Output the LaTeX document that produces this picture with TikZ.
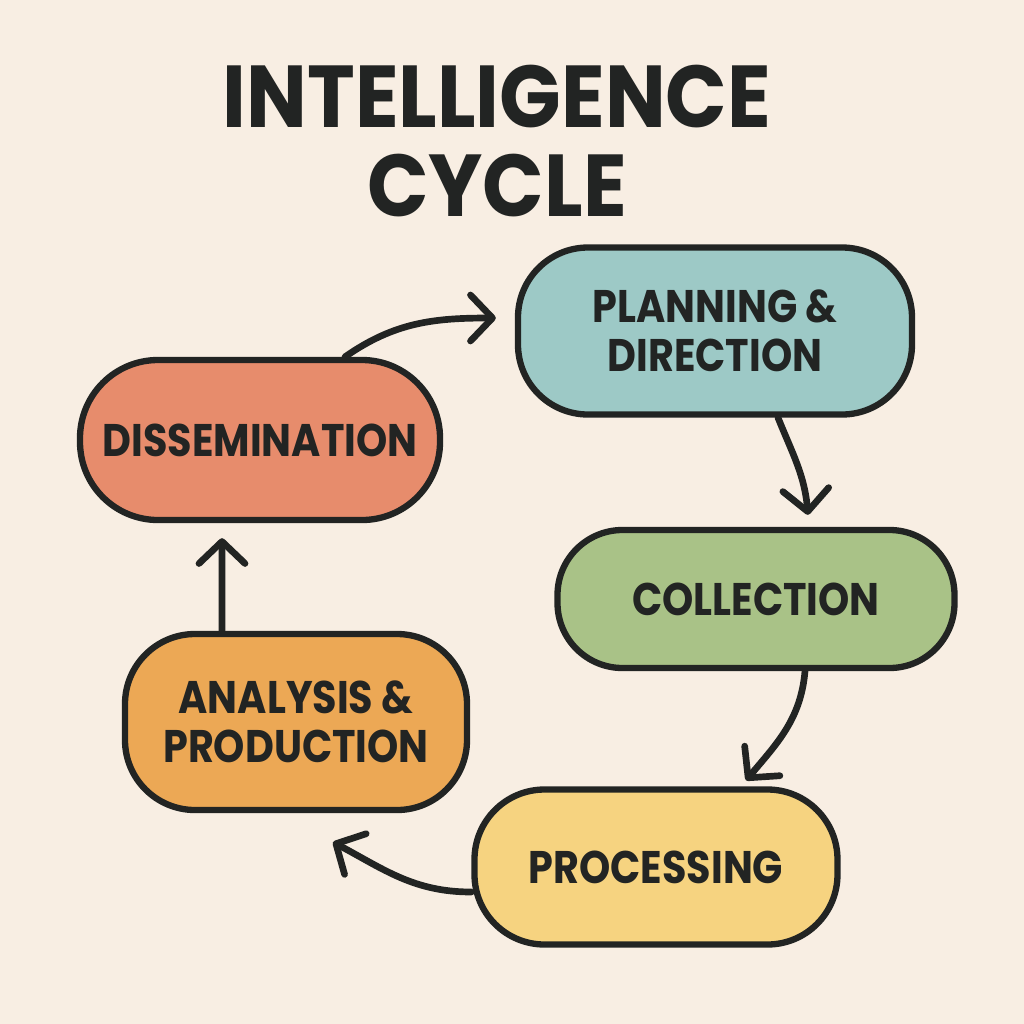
\documentclass[tikz,border=0pt]{standalone}
\usepackage{fontspec}
\setmainfont{Poppins}
\newfontfamily\titlefont{Poppins}[FakeStretch=0.92]
\newfontfamily\stagefont{Poppins}[FakeStretch=0.87]
\usepackage{tikz}
\usetikzlibrary{arrows.meta,positioning}

\definecolor{paper}{HTML}{F8EEE3}
\definecolor{ink}{HTML}{222423}
\definecolor{planblue}{HTML}{9DC9C6}
\definecolor{collgreen}{HTML}{A9C287}
\definecolor{procyellow}{HTML}{F6D380}
\definecolor{analorange}{HTML}{ECA855}
\definecolor{dissred}{HTML}{E78C6C}

\begin{document}
\begin{tikzpicture}
\tikzstyle{stage}=[rectangle,rounded corners=7mm,draw=ink,line width=1.8pt,text=ink,font=\stagefont\bfseries\fontsize{13}{14}\selectfont,align=center,inner sep=0pt]
\tikzstyle{flow}=[draw=ink,line width=1.9pt,line cap=round,-{Straight Barb[length=2.2mm,width=4.6mm,round]}]
\fill[paper] (0,0) rectangle (10.24,-10.24);
\useasboundingbox (0,0) rectangle (10.24,-10.24);
\node[text=ink,font=\titlefont\bfseries\fontsize{25}{25.5}\selectfont,align=center] (title) at (4.97,-1.41) {INTELLIGENCE\\CYCLE};
\node[stage,fill=planblue,minimum width=3.94cm,minimum height=1.67cm] (plan) at (7.15,-3.31) {PLANNING \&\\DIRECTION};
\node[stage,fill=collgreen,rounded corners=6.5mm,minimum width=3.97cm,minimum height=1.38cm] (coll) at (7.56,-5.99) {COLLECTION};
\node[stage,fill=procyellow,minimum width=3.63cm,minimum height=1.55cm] (proc) at (6.56,-8.67) {PROCESSING};
\node[stage,fill=analorange,minimum width=3.42cm,minimum height=1.76cm] (anal) at (2.96,-7.22) {ANALYSIS \&\\PRODUCTION};
\node[stage,fill=dissred,rounded corners=7.8mm,minimum width=3.6cm,minimum height=1.6cm] (diss) at (2.60,-4.40) {DISSEMINATION};
% cycle
\draw[flow] ([xshift=8.5mm]diss.north) to[out=35,in=180] ([xshift=-1.9mm,yshift=1.3mm]plan.west);
\draw[flow] ([xshift=6.3mm]plan.south) to[out=-68,in=95] ([xshift=5.2mm,yshift=1.2mm]coll.north);
\draw[flow] ([xshift=4.9mm]coll.south) to[out=-95,in=50] ([xshift=9mm,yshift=0.6mm]proc.north);
\draw[flow] ([yshift=-2.5mm]proc.west) to[out=180,in=-28] ([xshift=3.7mm,yshift=-2.9mm]anal.south);
\draw[flow] ([xshift=-7.4mm]anal.north) -- ([xshift=-3.8mm,yshift=-1.5mm]diss.south);
\end{tikzpicture}
\end{document}
